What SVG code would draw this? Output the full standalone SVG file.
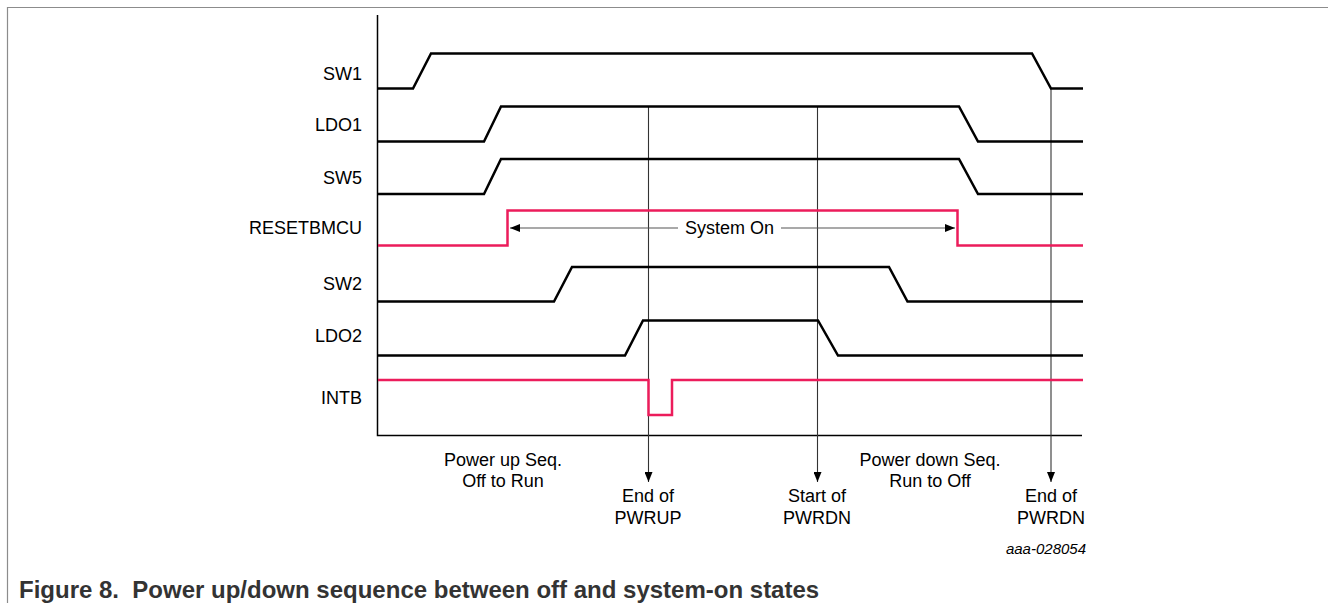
<svg xmlns="http://www.w3.org/2000/svg" width="1328" height="603" viewBox="0 0 1328 603">
<defs>
<style>
.lbl{font-family:"Liberation Sans",Arial,sans-serif;font-size:18px;fill:#000}
.sig{fill:none;stroke:#000;stroke-width:2.5;stroke-linejoin:miter}
.red{fill:none;stroke:#ec1c5b;stroke-width:2.5}
.mark{fill:none;stroke:#333;stroke-width:1.1}
.axis{fill:none;stroke:#000;stroke-width:1.5}
.frame{fill:none;stroke:#8c8c8c;stroke-width:1.2}
.cap{font-family:"Liberation Sans",Arial,sans-serif;font-size:24px;font-weight:bold;fill:#333}
.id{font-family:"Liberation Sans",Arial,sans-serif;font-size:15px;font-style:italic;fill:#000}
</style>
<marker id="ah" viewBox="0 0 10 8" refX="10" refY="4" markerWidth="10" markerHeight="8" markerUnits="userSpaceOnUse" orient="auto">
<path d="M0,0 L10,4 L0,8 Z" fill="#000"/>
</marker>
<marker id="ahd" viewBox="0 0 8 10" refX="4" refY="10" markerWidth="8" markerHeight="10" markerUnits="userSpaceOnUse" orient="0">
<path d="M0,0 L8,0 L4,10 Z" fill="#000"/>
</marker>
</defs>
<rect width="1328" height="603" fill="#fff"/>
<path class="frame" d="M7.5,603 V7.5 H1328"/>

<g id="axes">
<path class="axis" d="M377.5,15 V435.5 H1082"/>
</g>

<g id="connectors">
<line class="mark" x1="648.5" y1="106.5" x2="648.5" y2="482" marker-end="url(#ahd)"/>
<line class="mark" x1="817.5" y1="106.5" x2="817.5" y2="482" marker-end="url(#ahd)"/>
<line class="mark" x1="1051" y1="88.5" x2="1051" y2="482" marker-end="url(#ahd)"/>
<line stroke="#555" stroke-width="1.1" x1="678" y1="228" x2="510" y2="228" marker-end="url(#ah)"/>
<line stroke="#555" stroke-width="1.1" x1="781" y1="228" x2="955" y2="228" marker-end="url(#ah)"/>
</g>

<g id="labels">
<text class="lbl" x="362" y="79.5" text-anchor="end">SW1</text>
<text class="lbl" x="362" y="131" text-anchor="end">LDO1</text>
<text class="lbl" x="362" y="184" text-anchor="end">SW5</text>
<text class="lbl" x="362" y="234" text-anchor="end">RESETBMCU</text>
<text class="lbl" x="362" y="290" text-anchor="end">SW2</text>
<text class="lbl" x="362" y="341.5" text-anchor="end">LDO2</text>
<text class="lbl" x="362" y="404" text-anchor="end">INTB</text>
</g>

<g id="SW1"><path class="sig" d="M378,88.5 H413 L431,53.5 H1032 L1051,88.5 H1083"/></g>
<g id="LDO1"><path class="sig" d="M378,141.5 H484 L501,106.5 H959 L978,141.5 H1083"/></g>
<g id="SW5"><path class="sig" d="M378,194 H484 L501,159 H959 L978,194 H1083"/></g>
<g id="RESETBMCU"><path class="red" d="M378,245.5 H507.5 V210.5 H957.5 V245.5 H1083"/></g>
<g id="SW2"><path class="sig" d="M378,301.5 H554 L572,267 H889 L907.5,301.5 H1083"/></g>
<g id="LDO2"><path class="sig" d="M378,355.5 H625 L643,320.5 H818 L838,355.5 H1083"/></g>
<g id="INTB"><path class="red" d="M378,380 H648.5 V415 H672 V380 H1083"/></g>

<g id="system-on"><text class="lbl" x="729.5" y="234" text-anchor="middle">System On</text></g>

<g id="bottom-labels">
<text class="lbl" x="503" y="465.5" text-anchor="middle">Power up Seq.</text>
<text class="lbl" x="503" y="486.5" text-anchor="middle">Off to Run</text>
<text class="lbl" x="648" y="501.5" text-anchor="middle">End of</text>
<text class="lbl" x="648" y="524" text-anchor="middle">PWRUP</text>
<text class="lbl" x="817" y="501.5" text-anchor="middle">Start of</text>
<text class="lbl" x="817" y="524" text-anchor="middle">PWRDN</text>
<text class="lbl" x="930" y="465.5" text-anchor="middle">Power down Seq.</text>
<text class="lbl" x="930" y="486.5" text-anchor="middle">Run to Off</text>
<text class="lbl" x="1051" y="501.5" text-anchor="middle">End of</text>
<text class="lbl" x="1051" y="524" text-anchor="middle">PWRDN</text>
<text class="id" x="1086" y="554" text-anchor="end">aaa-028054</text>
</g>

<text class="cap" x="19" y="598" xml:space="preserve">Figure 8.  Power up/down sequence between off and system-on states</text>
</svg>
